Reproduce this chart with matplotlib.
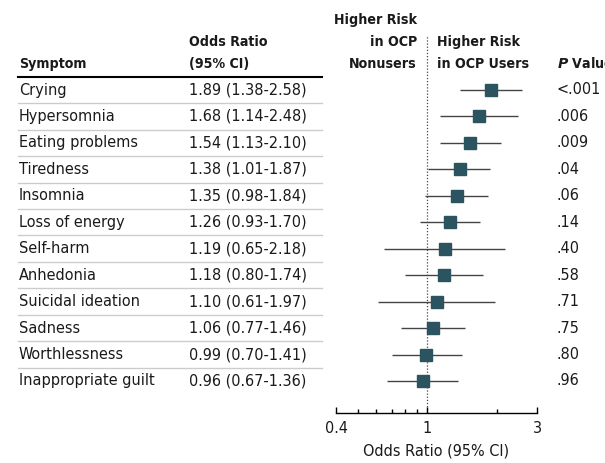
import numpy as np
import matplotlib
matplotlib.use("Agg")
import matplotlib.pyplot as plt
import matplotlib.transforms as mtransforms
from matplotlib.ticker import FixedLocator, NullFormatter

symptoms = ["Crying", "Hypersomnia", "Eating problems", "Tiredness", "Insomnia",
            "Loss of energy", "Self-harm", "Anhedonia", "Suicidal ideation",
            "Sadness", "Worthlessness", "Inappropriate guilt"]
odds = [1.89, 1.68, 1.54, 1.38, 1.35, 1.26, 1.19, 1.18, 1.10, 1.06, 0.99, 0.96]
ci_low = [1.38, 1.14, 1.13, 1.01, 0.98, 0.93, 0.65, 0.80, 0.61, 0.77, 0.70, 0.67]
ci_high = [2.58, 2.48, 2.10, 1.87, 1.84, 1.70, 2.18, 1.74, 1.97, 1.46, 1.41, 1.36]
p_values = ["<.001", ".006", ".009", ".04", ".06", ".14", ".40", ".58", ".71",
            ".75", ".80", ".96"]

W, H = 605, 463
FONT = "DejaVu Sans"
FS = 11.6
HFS = 10.2
SQ = "#2c5360"

fig = plt.figure(figsize=(W / 100, H / 100), dpi=100)

# forest axes: x 336..537 px, y 35..413 px
row0, step = 90, 26.45
ax_left, ax_right, ax_top, ax_bot = 336, 537, 35, 413
ax = fig.add_axes([ax_left / W, 1 - ax_bot / H, (ax_right - ax_left) / W, (ax_bot - ax_top) / H])
ax.set_xscale("log")
ax.set_xlim(0.4, 3)
ax.set_ylim((ax_bot - row0) / step, (ax_top - row0) / step)

rows = np.arange(len(symptoms))
ax.hlines(rows, ci_low, ci_high, color="#444444", linewidth=1.0, zorder=2)
ax.plot(odds, rows, "s", color=SQ, markersize=8, zorder=3)
ax.axvline(1, color="#444444", linestyle=(0, (1, 1.5)), linewidth=0.9, zorder=1)

for s in ["top", "right", "left"]:
    ax.spines[s].set_visible(False)
ax.spines["bottom"].set_linewidth(1.0)
ax.yaxis.set_visible(False)
ax.xaxis.set_major_locator(FixedLocator([0.4, 1, 3]))
ax.xaxis.set_minor_locator(FixedLocator([0.5, 0.6, 0.7, 0.8, 0.9, 2]))
ax.xaxis.set_minor_formatter(NullFormatter())
ax.set_xticklabels(["0.4", "1", "3"])
ax.tick_params(axis="x", which="major", direction="in", length=4.5, width=1,
               labelsize=FS, pad=6, labelcolor="#1a1a1a")
ax.tick_params(axis="x", which="minor", direction="in", length=3, width=1)
for lab in ax.get_xticklabels():
    lab.set_fontfamily(FONT)
    lab.set_fontstretch("condensed")
ax.set_xlabel("Odds Ratio (95% CI)", fontsize=FS, family=FONT,
              fontstretch="condensed", labelpad=5, color="#1a1a1a")

# text columns: x in figure fraction, y in row units
tr = mtransforms.blended_transform_factory(fig.transFigure, ax.transData)
kw = dict(fontsize=FS, family=FONT, fontstretch="condensed", va="center",
          transform=tr, color="#1a1a1a")

for i, (name, o, lo, hi, p) in enumerate(zip(symptoms, odds, ci_low, ci_high, p_values)):
    fig.text(19 / W, i, name, ha="left", **kw)
    fig.text(189 / W, i, f"{o:.2f} ({lo:.2f}-{hi:.2f})", ha="left", **kw)
    fig.text(557 / W, i, p, ha="left", **kw)
    if i < len(symptoms) - 1:
        fig.add_artist(plt.Line2D([18 / W, 322 / W], [i + 0.5, i + 0.5],
                                  transform=tr, color="#cccccc", linewidth=1))

hdr_y = (77 - row0) / step
fig.add_artist(plt.Line2D([18 / W, 322 / W], [hdr_y, hdr_y], transform=tr,
                          color="black", linewidth=1.5))

hk = dict(kw, fontweight="bold", fontsize=HFS)
y1 = (64 - row0) / step
y2 = (42 - row0) / step
y3 = (20 - row0) / step
fig.text(19 / W, y1, "Symptom", ha="left", **hk)
fig.text(189 / W, y1, "(95% CI)", ha="left", **hk)
fig.text(189 / W, y2, "Odds Ratio", ha="left", **hk)
fig.text(417 / W, y1, "Nonusers", ha="right", **hk)
fig.text(417 / W, y2, "in OCP", ha="right", **hk)
fig.text(417 / W, y3, "Higher Risk", ha="right", **hk)
fig.text(437 / W, y1, "in OCP Users", ha="left", **hk)
fig.text(437 / W, y2, "Higher Risk", ha="left", **hk)
fig.text(557 / W, y1, r"$\bfit{P}$ Value", ha="left", **hk)

fig.savefig("out.png", dpi=100)
